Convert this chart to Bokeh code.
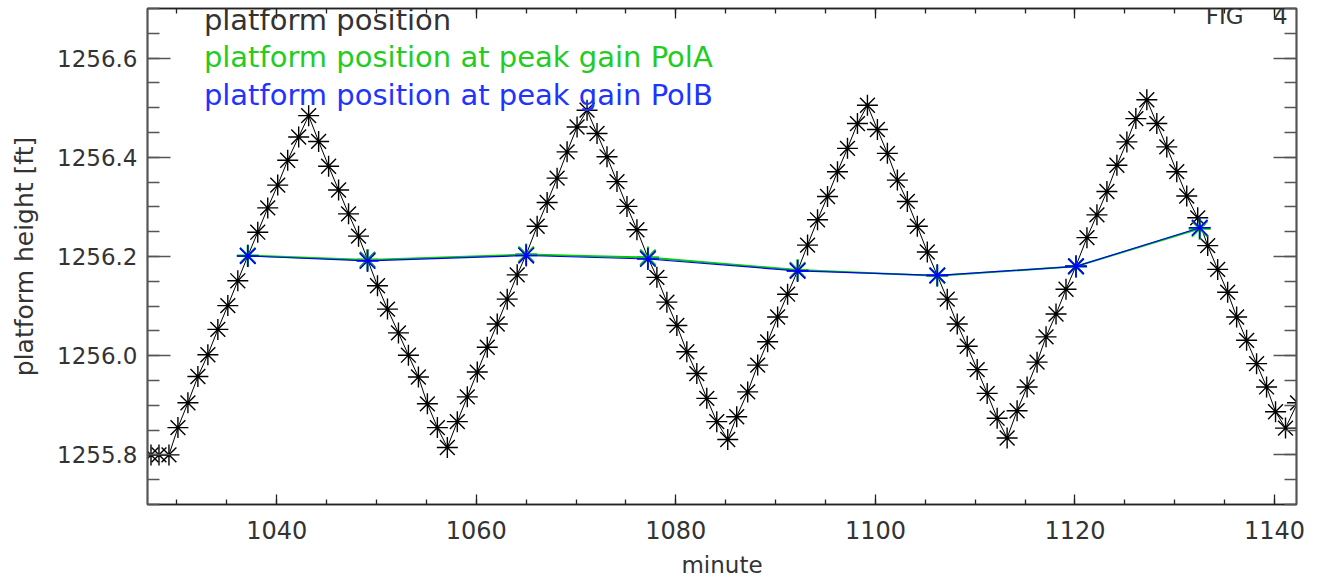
from bokeh.plotting import figure
from bokeh.models import (Range1d, LinearAxis, FixedTicker, PrintfTickFormatter,
                          CustomJSTickFormatter, Label, ColumnDataSource)
from bokeh.embed import file_html
from bokeh.resources import INLINE

# platform position (black)
minute = [1027.4, 1028.2, 1029.2, 1030.1, 1031.1, 1032.1, 1033.1, 1034.1, 1035.1, 1036.1,
          1037.1, 1038.1, 1039.1, 1040.1, 1041.1, 1042.2, 1043.2, 1044.2, 1045.2, 1046.2,
          1047.2, 1048.2, 1049.1, 1050.1, 1051.1, 1052.2, 1053.2, 1054.2, 1055.1, 1056.1,
          1057.1, 1058.1, 1059.1, 1060.1, 1061.1, 1062.1, 1063.1, 1064.1, 1065.0, 1066.1,
          1067.1, 1068.1, 1069.1, 1070.1, 1071.1, 1072.1, 1073.1, 1074.1, 1075.1, 1076.1,
          1077.2, 1078.1, 1079.1, 1080.1, 1081.1, 1082.1, 1083.1, 1084.1, 1085.2, 1086.1,
          1087.2, 1088.2, 1089.2, 1090.2, 1091.2, 1092.2, 1093.2, 1094.2, 1095.2, 1096.2,
          1097.2, 1098.2, 1099.2, 1100.2, 1101.2, 1102.2, 1103.2, 1104.2, 1105.2, 1106.2,
          1107.2, 1108.2, 1109.2, 1110.2, 1111.2, 1112.2, 1113.2, 1114.2, 1115.2, 1116.2,
          1117.1, 1118.1, 1119.1, 1120.1, 1121.2, 1122.2, 1123.2, 1124.2, 1125.2, 1126.1,
          1127.2, 1128.2, 1129.2, 1130.2, 1131.2, 1132.3, 1133.3, 1134.3, 1135.3, 1136.2,
          1137.2, 1138.2, 1139.2, 1140.1, 1141.1, 1142.3]
height = [1255.800, 1255.800, 1255.800, 1255.855, 1255.905, 1255.958, 1256.002, 1256.053, 1256.101, 1256.151,
          1256.201, 1256.249, 1256.298, 1256.344, 1256.394, 1256.441, 1256.484, 1256.432, 1256.382, 1256.334,
          1256.286, 1256.241, 1256.194, 1256.141, 1256.094, 1256.046, 1256.001, 1255.957, 1255.903, 1255.855,
          1255.815, 1255.867, 1255.917, 1255.967, 1256.017, 1256.064, 1256.114, 1256.163, 1256.204, 1256.261,
          1256.309, 1256.358, 1256.411, 1256.461, 1256.495, 1256.448, 1256.401, 1256.351, 1256.301, 1256.254,
          1256.198, 1256.158, 1256.108, 1256.061, 1256.008, 1255.964, 1255.914, 1255.867, 1255.831, 1255.877,
          1255.927, 1255.981, 1256.028, 1256.078, 1256.124, 1256.171, 1256.223, 1256.274, 1256.321, 1256.371,
          1256.418, 1256.468, 1256.505, 1256.456, 1256.408, 1256.354, 1256.311, 1256.261, 1256.209, 1256.162,
          1256.114, 1256.064, 1256.019, 1255.972, 1255.924, 1255.874, 1255.834, 1255.889, 1255.937, 1255.987,
          1256.038, 1256.084, 1256.134, 1256.181, 1256.238, 1256.284, 1256.331, 1256.384, 1256.431, 1256.478,
          1256.516, 1256.468, 1256.421, 1256.371, 1256.322, 1256.278, 1256.222, 1256.174, 1256.128, 1256.078,
          1256.031, 1255.984, 1255.937, 1255.887, 1255.854, 1255.905]

# platform position at peak gain
peak_minute_a = [1037.1, 1049.1, 1065.0, 1077.2, 1092.2, 1106.2, 1120.1, 1132.5]
peak_height_a = [1256.202, 1256.193, 1256.204, 1256.198, 1256.173, 1256.161, 1256.180, 1256.256]
peak_minute_b = [1037.1, 1049.1, 1065.0, 1077.2, 1092.2, 1106.2, 1120.1, 1132.5]
peak_height_b = [1256.201, 1256.191, 1256.202, 1256.195, 1256.171, 1256.162, 1256.180, 1256.258]

x_major = [1040, 1060, 1080, 1100, 1120, 1140]
x_minor = [1030, 1035, 1040, 1045, 1050, 1055, 1060, 1065, 1070, 1075, 1080, 1085, 1090,
           1095, 1100, 1105, 1110, 1115, 1120, 1125, 1130, 1135, 1140]
y_major = [1255.8, 1256.0, 1256.2, 1256.4, 1256.6]
y_minor = [1255.70, 1255.75, 1255.80, 1255.85, 1255.90, 1255.95, 1256.00, 1256.05, 1256.10,
           1256.15, 1256.20, 1256.25, 1256.30, 1256.35, 1256.40, 1256.45, 1256.50, 1256.55,
           1256.60, 1256.65, 1256.70]

FONT = "DejaVu Sans"
TXT = "#333333"

p = figure(width=1317, height=581,
           x_range=Range1d(1027.05, 1142.2), y_range=Range1d(1255.7, 1256.7),
           output_backend="svg", toolbar_location=None,
           min_border_left=147, min_border_right=21, min_border_top=8, min_border_bottom=77,
           x_axis_label="minute", y_axis_label="platform height [ft]")
p.xgrid.visible = False
p.ygrid.visible = False
p.outline_line_color = "#222222"
p.outline_line_width = 1.5
p.background_fill_color = "white"
p.border_fill_color = "white"

xt = FixedTicker(ticks=x_major, minor_ticks=x_minor)
yt = FixedTicker(ticks=y_major, minor_ticks=y_minor)

def style_x(ax):
    ax.ticker = xt
    ax.major_tick_in = 10
    ax.major_tick_out = 0
    ax.minor_tick_in = 5
    ax.minor_tick_out = 0
    ax.axis_line_color = "#222222"
    ax.axis_line_width = 1.5
    ax.major_tick_line_color = "#222222"
    ax.minor_tick_line_color = "#222222"
    ax.major_tick_line_width = 1.3
    ax.minor_tick_line_width = 1.3

def style_y(ax):
    ax.ticker = yt
    ax.major_tick_in = 23
    ax.major_tick_out = 0
    ax.minor_tick_in = 12
    ax.minor_tick_out = 0
    ax.axis_line_color = "#555555"
    ax.axis_line_width = 1.8
    ax.major_tick_line_color = "#555555"
    ax.minor_tick_line_color = "#555555"
    ax.major_tick_line_width = 1.4
    ax.minor_tick_line_width = 1.4

xa = p.xaxis[0]
style_x(xa)
xa.major_label_text_font = FONT
xa.major_label_text_font_size = "24px"
xa.major_label_text_color = TXT
xa.major_label_standoff = 16
xa.axis_label_text_font = FONT
xa.axis_label_text_font_size = "23px"
xa.axis_label_text_font_style = "normal"
xa.axis_label_text_color = TXT
xa.axis_label_standoff = 10

ya = p.yaxis[0]
style_y(ya)
ya.formatter = PrintfTickFormatter(format="%.1f")
ya.major_label_text_font = FONT
ya.major_label_text_font_size = "23px"
ya.major_label_text_color = TXT
ya.major_label_standoff = 10
ya.axis_label_text_font = FONT
ya.axis_label_text_font_size = "25px"
ya.axis_label_text_font_style = "normal"
ya.axis_label_text_color = TXT
ya.axis_label_standoff = 15

blank = CustomJSTickFormatter(code="return ''")
top = LinearAxis(formatter=blank, major_label_standoff=0, major_label_text_font_size="0px")
style_x(top)
p.add_layout(top, "above")
right = LinearAxis(formatter=blank, major_label_standoff=0, major_label_text_font_size="0px")
style_y(right)
p.add_layout(right, "right")

src = ColumnDataSource(dict(minute=minute, height=height))
p.line("minute", "height", source=src, line_color="black", line_width=1)
p.scatter("minute", "height", source=src, marker="asterisk", size=21,
          line_color="black", line_width=1.4)

srca = ColumnDataSource(dict(minute=peak_minute_a, height=peak_height_a))
p.line("minute", "height", source=srca, line_color="#00cc00", line_width=1.8)
p.scatter("minute", "height", source=srca, marker="asterisk", size=22,
          line_color="#00cc00", line_width=2)

srcb = ColumnDataSource(dict(minute=peak_minute_b, height=peak_height_b))
p.line("minute", "height", source=srcb, line_color="#0000ff", line_width=1.2)
p.scatter("minute", "height", source=srcb, marker="asterisk", size=22,
          line_color="#0000ff", line_width=1.7)

LEG = "29px"
p.add_layout(Label(x=1032.7, y=1256.677, text="platform position", text_font=FONT,
                   text_font_size=LEG, text_color=TXT, text_baseline="alphabetic"))
p.add_layout(Label(x=1032.7, y=1256.602, text="platform position at peak gain PolA", text_font=FONT,
                   text_font_size=LEG, text_color="#22cc22", text_baseline="alphabetic"))
p.add_layout(Label(x=1032.7, y=1256.526, text="platform position at peak gain PolB", text_font=FONT,
                   text_font_size=LEG, text_color="#2233ff", text_baseline="alphabetic"))
p.add_layout(Label(x=1141.3, y=1256.685, text="FIG\u00a0\u00a0\u00a0\u00a04", text_font=FONT,
                   text_font_size="23px", text_color=TXT, text_align="right",
                   text_baseline="alphabetic"))

open("out.html", "w").write(file_html(p, INLINE))
